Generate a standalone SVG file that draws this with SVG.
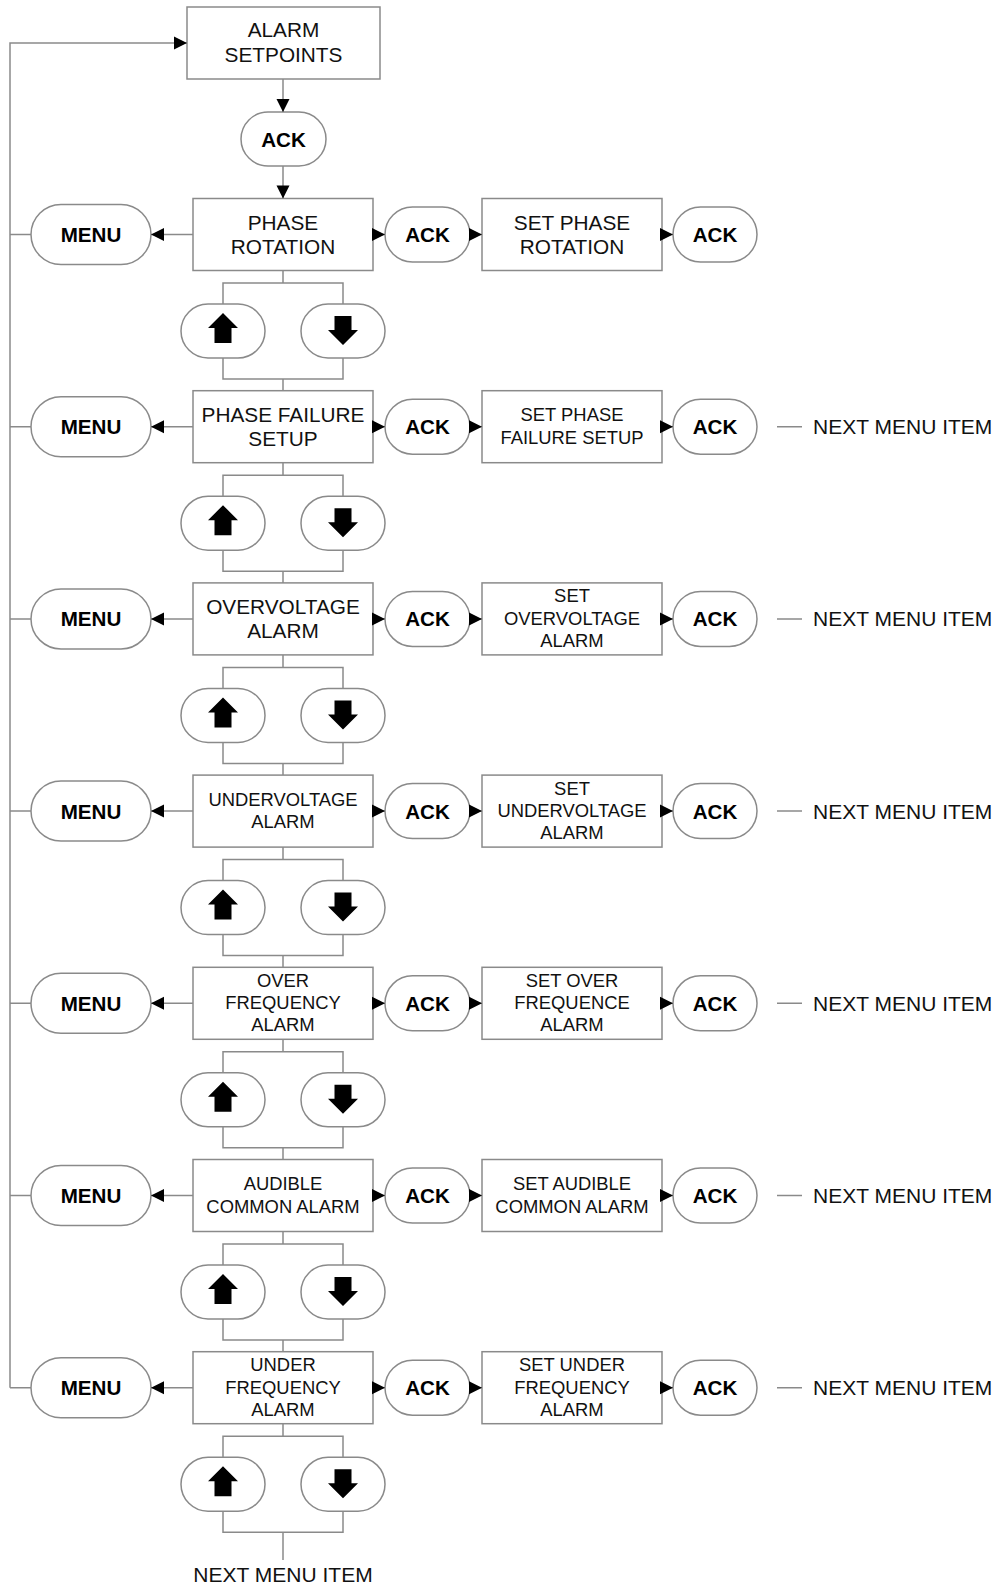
<svg xmlns="http://www.w3.org/2000/svg" xmlns:xlink="http://www.w3.org/1999/xlink" width="996" height="1587" viewBox="0 0 996 1587">
<style>
.bx{fill:#fff;stroke:#8a8a8a;stroke-width:1.5}
.ln{fill:none;stroke:#8a8a8a;stroke-width:1.5}
.ar{fill:none;stroke:#8a8a8a;stroke-width:1.5;marker-end:url(#ah)}
.t{font-family:"Liberation Sans",Arial,sans-serif;font-size:20.8px;fill:#111;text-anchor:middle}
.s{font-size:18.4px}
.b{font-weight:bold;font-size:20.6px;fill:#000}
.n{font-size:21px;text-anchor:start}
.ic{fill:#000}
</style>
<defs>
<marker id="ah" markerWidth="14" markerHeight="14" refX="13.5" refY="7" orient="auto" markerUnits="userSpaceOnUse"><path d="M0.5,0.5 L13.5,7 L0.5,13.5 Z" fill="#000"/></marker>
<path id="up" d="M0,-18 L15,-3 L8.5,-3 L8.5,12 L-8.5,12 L-8.5,-3 L-15,-3 Z"/>
<path id="dn" d="M-8.5,-15 L8.5,-15 L8.5,-1 L15,-1 L0,14 L-15,-1 L-8.5,-1 Z"/>
</defs>

<g id="alarm-setpoints"><rect class="bx" x="187" y="7" width="193" height="72"/><text class="t" x="283.5" y="36.7">ALARM</text><text class="t" x="283.5" y="62.3">SETPOINTS</text></g>
<g id="ack-top"><rect class="bx" x="241" y="112" width="85" height="54" rx="27"/><text class="t b" x="283.5" y="146.5">ACK</text></g>

<!-- Row 0 -->
<g id="menu-0"><rect class="bx" x="31" y="204.5" width="120" height="60" rx="30"/><text class="t b" x="91" y="242">MENU</text></g>
<g id="phase-rotation"><rect class="bx" x="193" y="198.5" width="180" height="72"/><text class="t" x="283" y="229.5">PHASE</text><text class="t" x="283" y="254">ROTATION</text></g>
<g id="ack-0a"><rect class="bx" x="385" y="207" width="85" height="55" rx="27.5"/><text class="t b" x="427.5" y="242">ACK</text></g>
<g id="set-phase-rotation"><rect class="bx" x="482" y="198.5" width="180" height="72"/><text class="t" x="572" y="229.5">SET PHASE</text><text class="t" x="572" y="254">ROTATION</text></g>
<g id="ack-0b"><rect class="bx" x="673" y="207" width="84" height="55" rx="27.5"/><text class="t b" x="715" y="242">ACK</text></g>
<g id="updown-0"><rect class="bx" x="181" y="304" width="84" height="54" rx="27"/><use href="#up" class="ic" x="223" y="331"/><rect class="bx" x="301" y="304" width="84" height="54" rx="27"/><use href="#dn" class="ic" x="343" y="331"/></g>

<!-- Row 1 -->
<g id="menu-1"><rect class="bx" x="31" y="396.7" width="120" height="60" rx="30"/><text class="t b" x="91" y="434.2">MENU</text></g>
<g id="phase-failure"><rect class="bx" x="193" y="390.7" width="180" height="72"/><text class="t" x="283" y="421.7">PHASE FAILURE</text><text class="t" x="283" y="446.2">SETUP</text></g>
<g id="ack-1a"><rect class="bx" x="385" y="399.2" width="85" height="55" rx="27.5"/><text class="t b" x="427.5" y="434.2">ACK</text></g>
<g id="set-phase-failure"><rect class="bx" x="482" y="390.7" width="180" height="72"/><text class="t s" x="572" y="421.2">SET PHASE</text><text class="t s" x="572" y="443.7">FAILURE SETUP</text></g>
<g id="ack-1b"><rect class="bx" x="673" y="399.2" width="84" height="55" rx="27.5"/><text class="t b" x="715" y="434.2">ACK</text></g>
<g id="next-1"><text class="t n" x="813" y="434.2">NEXT MENU ITEM</text></g>
<g id="updown-1"><rect class="bx" x="181" y="496.2" width="84" height="54" rx="27"/><use href="#up" class="ic" x="223" y="523.2"/><rect class="bx" x="301" y="496.2" width="84" height="54" rx="27"/><use href="#dn" class="ic" x="343" y="523.2"/></g>

<!-- Row 2 -->
<g id="menu-2"><rect class="bx" x="31" y="588.9" width="120" height="60" rx="30"/><text class="t b" x="91" y="626.4">MENU</text></g>
<g id="overvoltage"><rect class="bx" x="193" y="582.9" width="180" height="72"/><text class="t" x="283" y="613.9">OVERVOLTAGE</text><text class="t" x="283" y="638.4">ALARM</text></g>
<g id="ack-2a"><rect class="bx" x="385" y="591.4" width="85" height="55" rx="27.5"/><text class="t b" x="427.5" y="626.4">ACK</text></g>
<g id="set-overvoltage"><rect class="bx" x="482" y="582.9" width="180" height="72"/><text class="t s" x="572" y="602.4">SET</text><text class="t s" x="572" y="624.9">OVERVOLTAGE</text><text class="t s" x="572" y="646.9">ALARM</text></g>
<g id="ack-2b"><rect class="bx" x="673" y="591.4" width="84" height="55" rx="27.5"/><text class="t b" x="715" y="626.4">ACK</text></g>
<g id="next-2"><text class="t n" x="813" y="626.4">NEXT MENU ITEM</text></g>
<g id="updown-2"><rect class="bx" x="181" y="688.4" width="84" height="54" rx="27"/><use href="#up" class="ic" x="223" y="715.4"/><rect class="bx" x="301" y="688.4" width="84" height="54" rx="27"/><use href="#dn" class="ic" x="343" y="715.4"/></g>

<!-- Row 3 -->
<g id="menu-3"><rect class="bx" x="31" y="781.1" width="120" height="60" rx="30"/><text class="t b" x="91" y="818.6">MENU</text></g>
<g id="undervoltage"><rect class="bx" x="193" y="775.1" width="180" height="72"/><text class="t s" x="283" y="805.6">UNDERVOLTAGE</text><text class="t s" x="283" y="828.1">ALARM</text></g>
<g id="ack-3a"><rect class="bx" x="385" y="783.6" width="85" height="55" rx="27.5"/><text class="t b" x="427.5" y="818.6">ACK</text></g>
<g id="set-undervoltage"><rect class="bx" x="482" y="775.1" width="180" height="72"/><text class="t s" x="572" y="794.6">SET</text><text class="t s" x="572" y="817.1">UNDERVOLTAGE</text><text class="t s" x="572" y="839.1">ALARM</text></g>
<g id="ack-3b"><rect class="bx" x="673" y="783.6" width="84" height="55" rx="27.5"/><text class="t b" x="715" y="818.6">ACK</text></g>
<g id="next-3"><text class="t n" x="813" y="818.6">NEXT MENU ITEM</text></g>
<g id="updown-3"><rect class="bx" x="181" y="880.6" width="84" height="54" rx="27"/><use href="#up" class="ic" x="223" y="907.6"/><rect class="bx" x="301" y="880.6" width="84" height="54" rx="27"/><use href="#dn" class="ic" x="343" y="907.6"/></g>

<!-- Row 4 -->
<g id="menu-4"><rect class="bx" x="31" y="973.3" width="120" height="60" rx="30"/><text class="t b" x="91" y="1010.8">MENU</text></g>
<g id="over-frequency"><rect class="bx" x="193" y="967.3" width="180" height="72"/><text class="t s" x="283" y="986.8">OVER</text><text class="t s" x="283" y="1009.3">FREQUENCY</text><text class="t s" x="283" y="1031.3">ALARM</text></g>
<g id="ack-4a"><rect class="bx" x="385" y="975.8" width="85" height="55" rx="27.5"/><text class="t b" x="427.5" y="1010.8">ACK</text></g>
<g id="set-over-frequence"><rect class="bx" x="482" y="967.3" width="180" height="72"/><text class="t s" x="572" y="986.8">SET OVER</text><text class="t s" x="572" y="1009.3">FREQUENCE</text><text class="t s" x="572" y="1031.3">ALARM</text></g>
<g id="ack-4b"><rect class="bx" x="673" y="975.8" width="84" height="55" rx="27.5"/><text class="t b" x="715" y="1010.8">ACK</text></g>
<g id="next-4"><text class="t n" x="813" y="1010.8">NEXT MENU ITEM</text></g>
<g id="updown-4"><rect class="bx" x="181" y="1072.8" width="84" height="54" rx="27"/><use href="#up" class="ic" x="223" y="1099.8"/><rect class="bx" x="301" y="1072.8" width="84" height="54" rx="27"/><use href="#dn" class="ic" x="343" y="1099.8"/></g>

<!-- Row 5 -->
<g id="menu-5"><rect class="bx" x="31" y="1165.5" width="120" height="60" rx="30"/><text class="t b" x="91" y="1203">MENU</text></g>
<g id="audible-common"><rect class="bx" x="193" y="1159.5" width="180" height="72"/><text class="t s" x="283" y="1190">AUDIBLE</text><text class="t s" x="283" y="1212.5">COMMON ALARM</text></g>
<g id="ack-5a"><rect class="bx" x="385" y="1168" width="85" height="55" rx="27.5"/><text class="t b" x="427.5" y="1203">ACK</text></g>
<g id="set-audible-common"><rect class="bx" x="482" y="1159.5" width="180" height="72"/><text class="t s" x="572" y="1190">SET AUDIBLE</text><text class="t s" x="572" y="1212.5">COMMON ALARM</text></g>
<g id="ack-5b"><rect class="bx" x="673" y="1168" width="84" height="55" rx="27.5"/><text class="t b" x="715" y="1203">ACK</text></g>
<g id="next-5"><text class="t n" x="813" y="1203">NEXT MENU ITEM</text></g>
<g id="updown-5"><rect class="bx" x="181" y="1265" width="84" height="54" rx="27"/><use href="#up" class="ic" x="223" y="1292"/><rect class="bx" x="301" y="1265" width="84" height="54" rx="27"/><use href="#dn" class="ic" x="343" y="1292"/></g>

<!-- Row 6 -->
<g id="menu-6"><rect class="bx" x="31" y="1357.7" width="120" height="60" rx="30"/><text class="t b" x="91" y="1395.2">MENU</text></g>
<g id="under-frequency"><rect class="bx" x="193" y="1351.7" width="180" height="72"/><text class="t s" x="283" y="1371.2">UNDER</text><text class="t s" x="283" y="1393.7">FREQUENCY</text><text class="t s" x="283" y="1415.7">ALARM</text></g>
<g id="ack-6a"><rect class="bx" x="385" y="1360.2" width="85" height="55" rx="27.5"/><text class="t b" x="427.5" y="1395.2">ACK</text></g>
<g id="set-under-frequency"><rect class="bx" x="482" y="1351.7" width="180" height="72"/><text class="t s" x="572" y="1371.2">SET UNDER</text><text class="t s" x="572" y="1393.7">FREQUENCY</text><text class="t s" x="572" y="1415.7">ALARM</text></g>
<g id="ack-6b"><rect class="bx" x="673" y="1360.2" width="84" height="55" rx="27.5"/><text class="t b" x="715" y="1395.2">ACK</text></g>
<g id="next-6"><text class="t n" x="813" y="1395.2">NEXT MENU ITEM</text></g>
<g id="updown-6"><rect class="bx" x="181" y="1457.2" width="84" height="54" rx="27"/><use href="#up" class="ic" x="223" y="1484.2"/><rect class="bx" x="301" y="1457.2" width="84" height="54" rx="27"/><use href="#dn" class="ic" x="343" y="1484.2"/></g>
<g id="next-bottom"><text class="t" style="font-size:21px" x="283" y="1582">NEXT MENU ITEM</text></g>

<g id="connectors">
<path class="ar" d="M10,1387.7V43H187"/>
<path class="ar" d="M283,79V112"/>
<path class="ar" d="M283,166V198.5"/>
<path class="ln" d="M31,234.5H10M31,426.7H10M31,618.9H10M31,811.1H10M31,1003.3H10M31,1195.5H10M31,1387.7H10"/>
<path class="ln" d="M283,270.5V283M223,304V283H343V304M223,358V379H343V358M283,379V390.7"/>
<path class="ln" d="M283,462.7V475.2M223,496.2V475.2H343V496.2M223,550.2V571.2H343V550.2M283,571.2V582.9"/>
<path class="ln" d="M283,654.9V667.4M223,688.4V667.4H343V688.4M223,742.4V763.4H343V742.4M283,763.4V775.1"/>
<path class="ln" d="M283,847.1V859.6M223,880.6V859.6H343V880.6M223,934.6V955.6H343V934.6M283,955.6V967.3"/>
<path class="ln" d="M283,1039.3V1051.8M223,1072.8V1051.8H343V1072.8M223,1126.8V1147.8H343V1126.8M283,1147.8V1159.5"/>
<path class="ln" d="M283,1231.5V1244M223,1265V1244H343V1265M223,1319V1340H343V1319M283,1340V1351.7"/>
<path class="ln" d="M283,1423.7V1436.2M223,1457.2V1436.2H343V1457.2M223,1511.2V1532.2H343V1511.2M283,1532.2V1560"/>
<path class="ar" d="M193,234.5H151"/><path class="ar" d="M373,234.5H385"/><path class="ar" d="M470,234.5H482"/><path class="ar" d="M662,234.5H673"/>
<path class="ar" d="M193,426.7H151"/><path class="ar" d="M373,426.7H385"/><path class="ar" d="M470,426.7H482"/><path class="ar" d="M662,426.7H673"/>
<path class="ar" d="M193,618.9H151"/><path class="ar" d="M373,618.9H385"/><path class="ar" d="M470,618.9H482"/><path class="ar" d="M662,618.9H673"/>
<path class="ar" d="M193,811.1H151"/><path class="ar" d="M373,811.1H385"/><path class="ar" d="M470,811.1H482"/><path class="ar" d="M662,811.1H673"/>
<path class="ar" d="M193,1003.3H151"/><path class="ar" d="M373,1003.3H385"/><path class="ar" d="M470,1003.3H482"/><path class="ar" d="M662,1003.3H673"/>
<path class="ar" d="M193,1195.5H151"/><path class="ar" d="M373,1195.5H385"/><path class="ar" d="M470,1195.5H482"/><path class="ar" d="M662,1195.5H673"/>
<path class="ar" d="M193,1387.7H151"/><path class="ar" d="M373,1387.7H385"/><path class="ar" d="M470,1387.7H482"/><path class="ar" d="M662,1387.7H673"/>
<path class="ln" d="M777,426.7H802M777,618.9H802M777,811.1H802M777,1003.3H802M777,1195.5H802M777,1387.7H802"/>
</g>
</svg>
